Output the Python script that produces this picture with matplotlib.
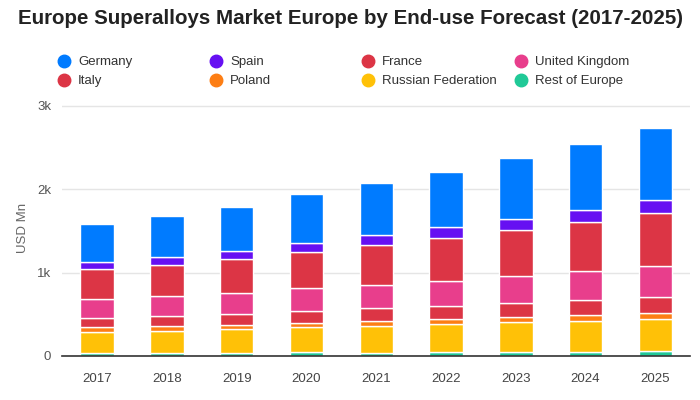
import matplotlib

matplotlib.use("Agg")
import matplotlib.pyplot as plt
import numpy as np
from matplotlib.lines import Line2D

plt.rcParams["font.family"] = ["Liberation Sans", "DejaVu Sans"]

years = ["2017", "2018", "2019", "2020", "2021", "2022", "2023", "2024", "2025"]

# stacked bottom -> top
rest_of_europe = [33, 33, 32, 44, 40, 44, 44, 44, 57]
russian_federation = [252, 265, 288, 302, 318, 334, 362, 374, 385]
poland = [61, 60, 48, 48, 60, 60, 60, 72, 72]
italy = [108, 120, 131, 144, 157, 157, 169, 181, 193]
united_kingdom = [229, 241, 252, 278, 277, 309, 325, 349, 374]
france = [361, 369, 407, 437, 482, 506, 554, 591, 633]
spain = [84, 101, 99, 108, 120, 131, 133, 144, 162]
germany = [450, 486, 531, 579, 618, 666, 726, 787, 859]

stack = [
    ("Rest of Europe", rest_of_europe, "#20c997"),
    ("Russian Federation", russian_federation, "#ffc107"),
    ("Poland", poland, "#fd7e14"),
    ("Italy", italy, "#dc3545"),
    ("United Kingdom", united_kingdom, "#e83e8c"),
    ("France", france, "#dc3545"),
    ("Spain", spain, "#6610f2"),
    ("Germany", germany, "#007bff"),
]

legend_order = [
    "Germany", "Spain", "France", "United Kingdom",
    "Italy", "Poland", "Russian Federation", "Rest of Europe",
]

fig = plt.figure(figsize=(7, 4), dpi=100)
ax = fig.add_axes([0.089, 0.11, 0.897, 0.64])

x = np.arange(len(years))
bottom = np.zeros(len(years))
for name, vals, color in stack:
    ax.bar(x, vals, bottom=bottom, width=0.48, color=color,
           edgecolor="white", linewidth=1.0, zorder=3)
    bottom += np.array(vals)

ax.set_xlim(-0.5, 8.5)
ax.set_ylim(0, 3070)
ax.set_yticks([0, 1000, 2000, 3000])
ax.set_yticklabels(["0", "1k", "2k", "3k"])
ax.set_xticks(x)
ax.set_xticklabels(years)
ax.tick_params(axis="both", length=0, labelsize=9.5, colors="#444444")
ax.tick_params(axis="y", pad=8, colors="#555555")
ax.tick_params(axis="x", pad=12)
ax.grid(axis="y", color="#e5e5e5", linewidth=1, zorder=0)
for s in ["top", "right", "left"]:
    ax.spines[s].set_visible(False)
ax.spines["bottom"].set_color("#333333")
ax.spines["bottom"].set_linewidth(1.2)
ax.spines["bottom"].set_zorder(4)
ax.set_ylabel("USD Mn", color="#666666", fontsize=9.5, labelpad=6)

fig.text(0.5, 0.953, "Europe Superalloys Market Europe by End-use Forecast (2017-2025)",
         ha="center", va="center", fontsize=14.8, fontweight="bold", color="#222222")

colors = {name: color for name, _, color in stack}
col_x = [64, 216, 368, 521]
row_y = [61, 80]
for i, name in enumerate(legend_order):
    cx = col_x[i % 4] / 700
    cy = 1 - row_y[i // 4] / 400
    fig.add_artist(Line2D([cx], [cy], marker="o", markersize=9, color=colors[name],
                          linestyle="none", transform=fig.transFigure))
    fig.text(cx + 14 / 700, cy - 1 / 400, name, ha="left", va="center",
             fontsize=9.5, color="#333333")

fig.savefig("out.png", dpi=100)
